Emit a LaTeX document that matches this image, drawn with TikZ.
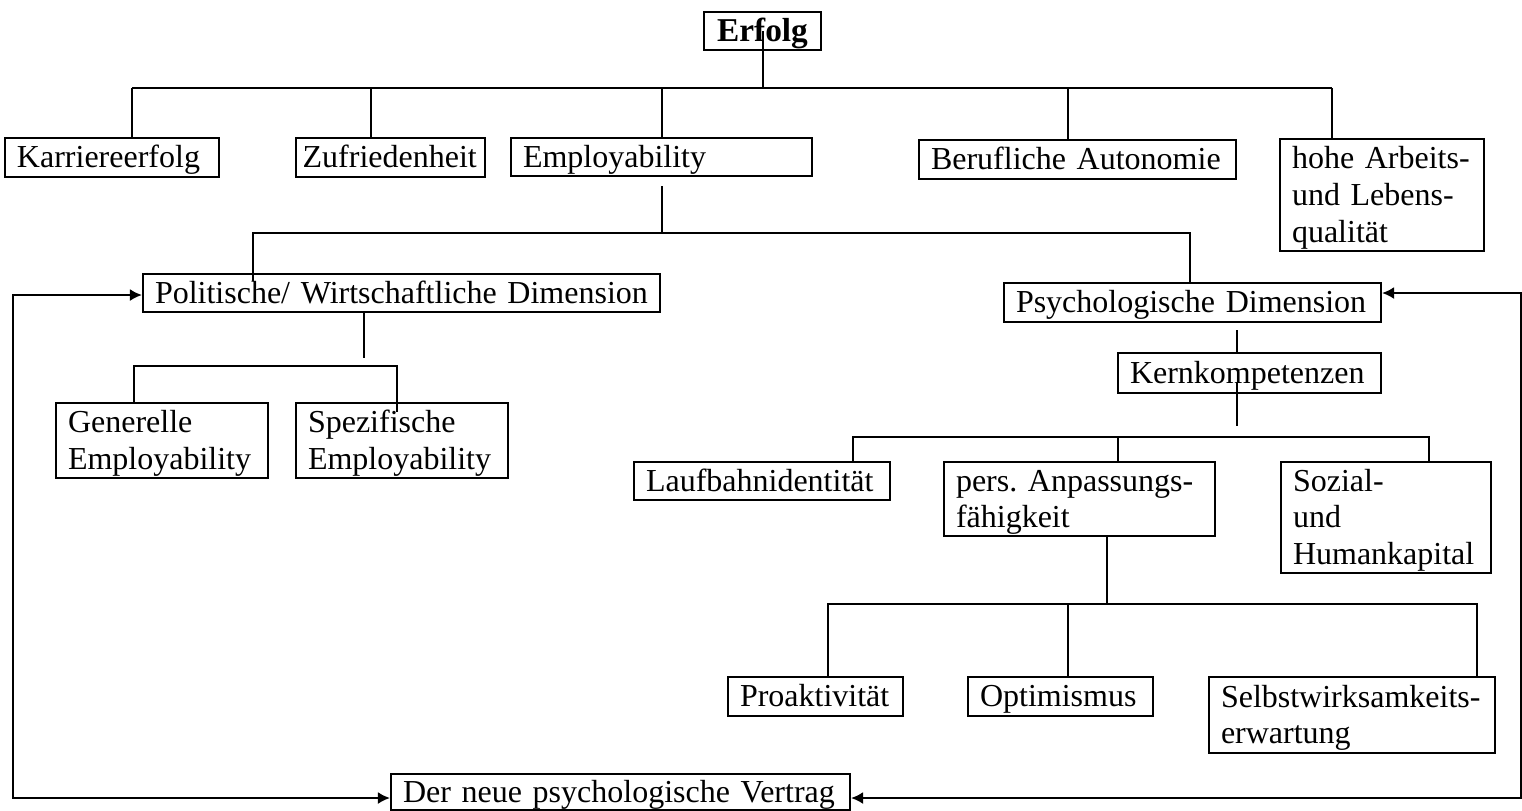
\documentclass[tikz,border=0pt]{standalone}
\usepackage{fontspec}
\setmainfont{Liberation Serif}
\usetikzlibrary{arrows.meta,calc}
\newcommand\boxstrut{\rule[-3pt]{0pt}{13.8pt}}
\frenchspacing

\begin{document}
\begin{tikzpicture}[x=0.375pt,y=-0.375pt]
  \tikzstyle{box}=[rectangle, draw=black, line width=0.8pt, inner xsep=4.5pt, inner ysep=0pt, align=left, font=\fontsize{12}{13.8}\selectfont, execute at begin node=\boxstrut, execute at end node=\boxstrut]
  \tikzstyle{topbox}=[box, align=center, font=\fontsize{12.5}{13.8}\selectfont\bfseries]
  \tikzstyle{connect}=[line width=0.75pt]
  \tikzstyle{feedback}=[connect, {Latex[length=4.5pt,width=4.5pt]}-{Latex[length=4.5pt,width=4.5pt]}]

  \useasboundingbox (0,0) rectangle (1522,810);

  % Ebene 1
  \node[topbox, text width=34.875pt, minimum height=14.25pt] (erfolg) at (762.5,31) {Erfolg};

  % Ebene 2
  \node[box, text width=71.25pt, minimum height=14.625pt] (karriere) at (112,157.5) {Karriereerfolg};
  \node[box, inner xsep=2.5pt, text width=65.875pt, minimum height=14.625pt] (zufrieden) at (390.5,157.5) {Zufriedenheit};
  \node[box, text width=103.875pt, minimum height=14.25pt] (employ) at (661.5,157) {Employability};
  \node[box, text width=109.875pt, minimum height=14.625pt] (beruf) at (1077.5,159.5) {Berufliche Autonomie};
  \node[box, text width=67.5pt, minimum height=42pt] (hohe) at (1382,195) {hohe Arbeits-\\und Lebens-\\qualität};

  % Dimensionen
  \node[box, text width=184.875pt, minimum height=14.25pt] (pol) at (401.5,293) {Politische/ Wirtschaftliche Dimension};
  \node[box, text width=132.375pt, minimum height=14.625pt] (psych) at (1192.5,302.5) {Psychologische Dimension};
  \node[box, text width=70.5pt, minimum height=28.125pt] (generelle) at (162,440.5) {Generelle\\Employability};
  \node[box, text width=70.5pt, minimum height=28.125pt] (spezif) at (402,440.5) {Spezifische\\Employability};

  % Kernkompetenzen
  \node[box, text width=89.625pt, minimum height=15pt] (kern) at (1249.5,373) {Kernkompetenzen};
  \node[box, text width=87pt, minimum height=14.25pt] (lauf) at (762,481) {Laufbahnidentität};
  \node[box, text width=92.625pt, minimum height=27.75pt] (pers) at (1079.5,499) {pers. Anpassungs-\\fähigkeit};
  \node[box, text width=69.75pt, minimum height=41.625pt] (sozial) at (1386,517.5) {Sozial-\\und\\Humankapital};

  % Anpassungsfaehigkeit
  \node[box, text width=56.625pt, minimum height=14.625pt] (proak) at (815.5,696.5) {Proaktivität};
  \node[box, text width=60.375pt, minimum height=14.625pt] (optim) at (1060.5,696.5) {Optimismus};
  \node[box, text width=98.25pt, minimum height=28.5pt] (selbst) at (1352,715) {Selbstwirksamkeits-\\erwartung};

  \node[box, text width=163.125pt, minimum height=13.5pt] (vertrag) at (620.5,792) {Der neue psychologische Vertrag};

  % Verbindungen oben
  \coordinate (t1) at (132,88);
  \coordinate (t2) at (371,88);
  \coordinate (t3) at (662,88);
  \coordinate (t4) at (1068,88);
  \coordinate (t5) at (1332,88);
  \draw[connect] (t1) -- (t5);
  \draw[connect] (erfolg.center) -- (erfolg.center |- t1);
  \foreach \t/\n in {t1/karriere, t2/zufrieden, t3/employ, t4/beruf, t5/hohe}
    \draw[connect] (\t) -- (\t |- \n.north);

  % Employability
  \coordinate (d0) at (662,233);
  \coordinate (d1) at (253,233);
  \coordinate (d2) at (1190,233);
  \draw[connect, shorten <=3.4pt] (d0 |- employ.south) -- (d0);
  \draw[connect] ($(d1 |- pol.north)+(0,8)$) -- (d1) -- (d2) -- (d2 |- psych.north);

  % politische Dimension
  \coordinate (g0) at (364,366);
  \coordinate (g1) at (134,366);
  \coordinate (g2) at (397,366);
  \draw[connect, shorten >=3pt] (g0 |- pol.south) -- (g0);
  \draw[connect] (g1 |- generelle.north) -- (g1) -- (g2) -- ($(g2 |- spezif.north)+(0,10)$);

  % psychologische Dimension
  \coordinate (k0) at (1237,437);
  \coordinate (k1) at (853,437);
  \coordinate (k2) at (1118,437);
  \coordinate (k3) at (1429,437);
  \draw[connect, shorten <=2.6pt] (k0 |- psych.south) -- (k0 |- kern.north);
  \draw[connect, shorten >=4pt] ($(k0 |- kern.south)+(0,-11)$) -- (k0);
  \draw[connect] (k1 |- lauf.north) -- (k1) -- (k3) -- (k3 |- sozial.north);
  \draw[connect] (k2) -- (k2 |- pers.north);

  \coordinate (q0) at (1107,604);
  \coordinate (q1) at (828,604);
  \coordinate (q2) at (1068,604);
  \coordinate (q3) at (1477,604);
  \draw[connect] (q0 |- pers.south) -- (q0);
  \draw[connect] (q1 |- proak.north) -- (q1) -- (q3) -- (q3 |- selbst.north);
  \draw[connect] (q2) -- (q2 |- optim.north);

  % Rueckkopplung
  \coordinate (l1) at (13,295);
  \coordinate (l2) at (13,798);
  \coordinate (r1) at (1521,293);
  \coordinate (r2) at (1521,798);
  \draw[feedback] (pol.west |- l1) -- (l1) -- (l2) -- (vertrag.west |- l2);
  \draw[feedback] (psych.east |- r1) -- (r1) -- (r2) -- (vertrag.east |- r2);
\end{tikzpicture}
\end{document}
